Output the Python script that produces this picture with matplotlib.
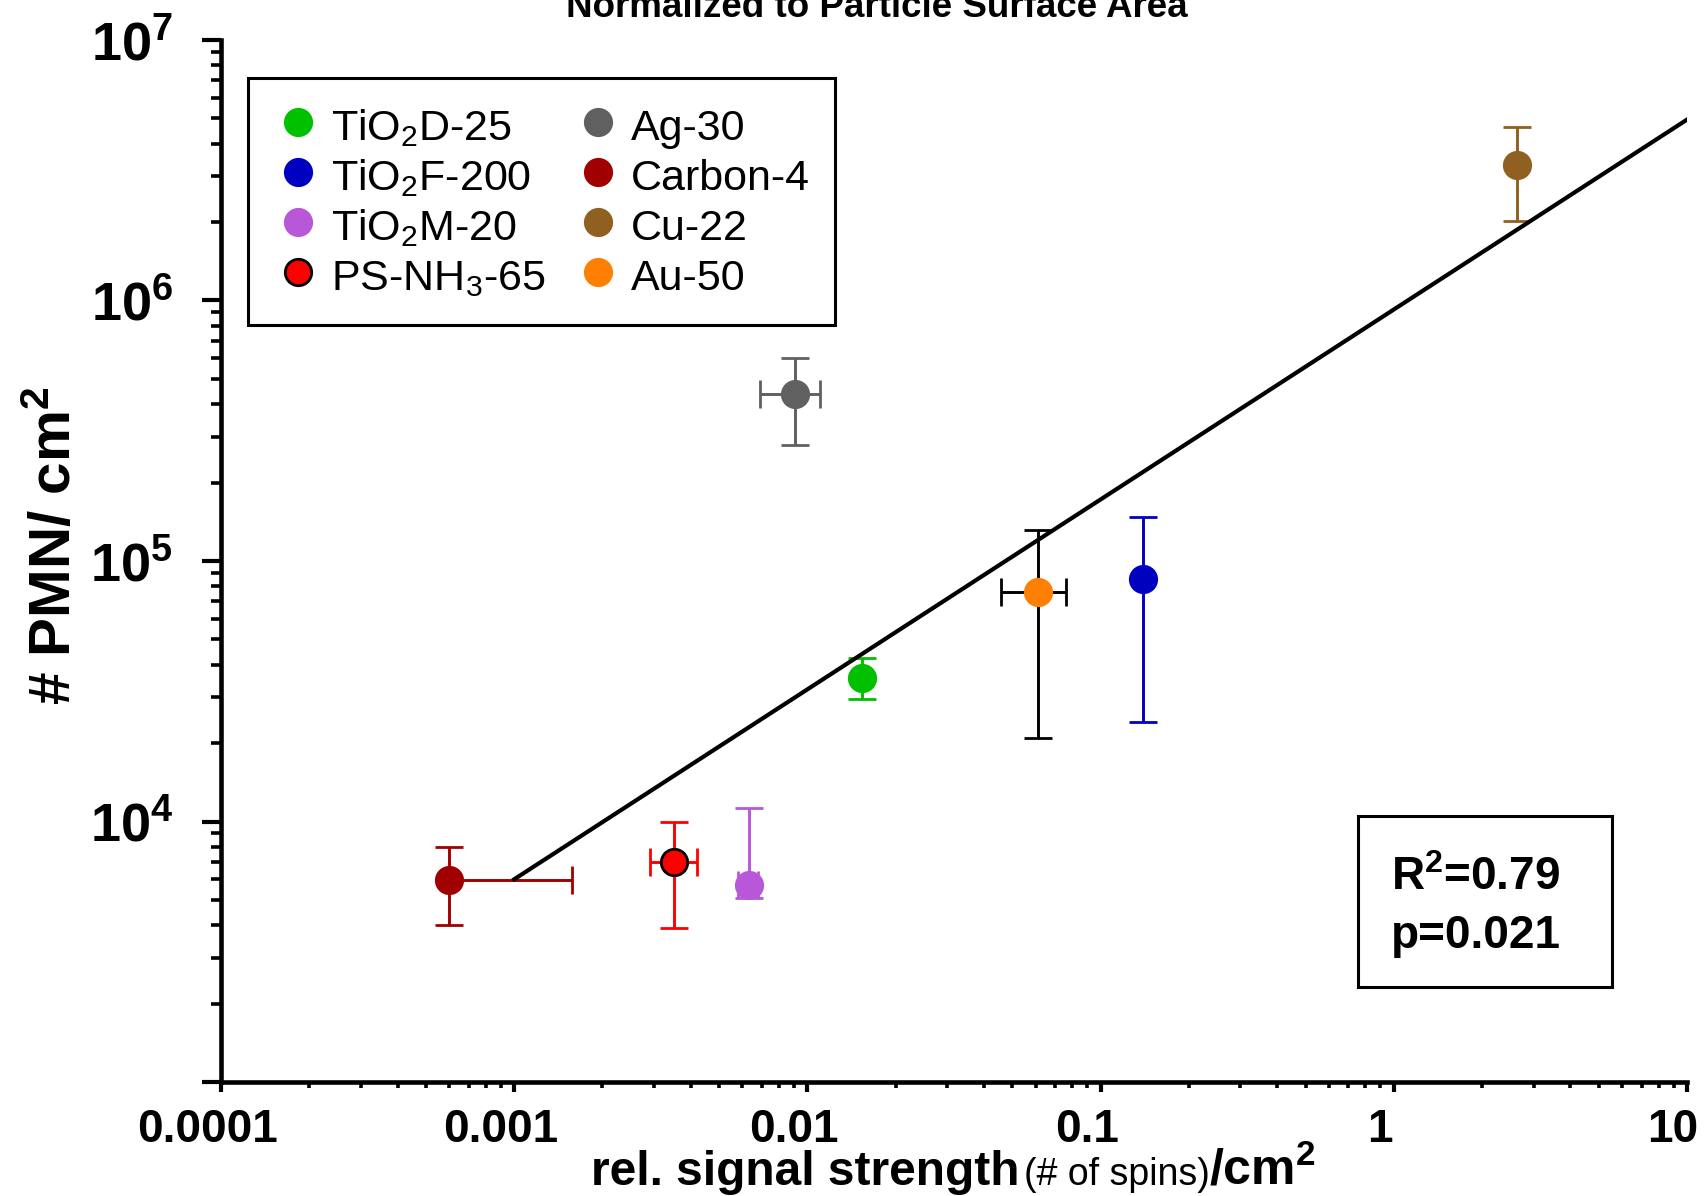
#!/usr/bin/env python
# -*- coding: utf-8 -*-

import numpy as np
import matplotlib
matplotlib.use("Agg")
import matplotlib.pyplot as plt
from matplotlib.lines import Line2D
from matplotlib.patches import Rectangle
from matplotlib.ticker import LogLocator, NullFormatter
from matplotlib.transforms import ScaledTranslation

plt.rcParams['font.family'] = ['Liberation Sans', 'DejaVu Sans']
plt.rcParams['mathtext.default'] = 'regular'

# ========== datos

names = ['TiO$_2$D-25', 'TiO$_2$F-200', 'TiO$_2$M-20', 'PS-NH$_3$-65',
         'Ag-30', 'Carbon-4', 'Cu-22', 'Au-50']
colors = ['#00c000', '#0000c0', '#b858d8', '#ff0000',
          '#606060', '#a00000', '#906020', '#ff8000']
err_colors = ['#00c000', '#0000c0', '#b858d8', '#ff0000',
              '#606060', '#a00000', '#906020', '#000000']
edge_colors = ['#00c000', '#0000c0', '#b858d8', '#000000',
               '#606060', '#a00000', '#906020', '#ff8000']

# rel. signal strength (# of spins)/cm2
signal = [0.0153, 0.140, 0.0063, 0.0035, 0.0091, 0.0006, 2.63, 0.061]
signal_lo = [0, 0, 0.0005, 0.0006, 0.0022, 0, 0, 0.0153]
signal_hi = [0, 0, 0.0005, 0.0007, 0.0019, 0.00098, 0, 0.0153]

# # PMN / cm2
pmn = [3.56e4, 8.5e4, 5.7e3, 7.0e3, 4.37e5, 5.95e3, 3.3e6, 7.6e4]
pmn_lo = [6.2e3, 6.1e4, 0.6e3, 3.1e3, 1.59e5, 1.95e3, 1.28e6, 5.5e4]
pmn_hi = [6.8e3, 6.2e4, 5.6e3, 3.0e3, 1.63e5, 2.05e3, 1.33e6, 5.5e4]

# ajuste y = A * x^b
fit_amp = 9.23e5
fit_exp = 0.729
fit_range = [1e-3, 10]

x_ticks = [1e-4, 1e-3, 1e-2, 1e-1, 1, 10]
x_tick_labels = ['0.0001', '0.001', '0.01', '0.1', '1', '10']
y_ticks = [1e3, 1e4, 1e5, 1e6, 1e7]
y_tick_labels = ['', '$10^4$', '$10^5$', '$10^6$', '$10^7$']

# ========== figura

fig = plt.figure(figsize=(17.08, 11.96), dpi=100)
ax = fig.add_axes([0.1294, 0.0953, 0.8583, 0.8713])

for i in range(len(names)):
    xe = None
    if signal_lo[i] > 0 or signal_hi[i] > 0:
        xe = [[signal_lo[i]], [signal_hi[i]]]
    ax.errorbar([signal[i]], [pmn[i]], yerr=[[pmn_lo[i]], [pmn_hi[i]]], xerr=xe,
                fmt='o', ms=19, mfc=colors[i], mec=edge_colors[i], mew=2,
                ecolor=err_colors[i], elinewidth=2.1, capsize=10, capthick=2.1,
                zorder=3)

xf = np.logspace(np.log10(fit_range[0]), np.log10(fit_range[1]), 50)
ax.plot(xf, fit_amp * xf ** fit_exp, color='black', lw=3, zorder=4)

ax.set_xscale('log')
ax.set_yscale('log')
ax.set_xlim(1e-4, 10)
ax.set_ylim(1e3, 1e7)

ax.set_xticks(x_ticks)
ax.set_xticklabels(x_tick_labels, fontsize=33, fontweight='bold')
ax.set_yticks(y_ticks)
ax.set_yticklabels(y_tick_labels, fontsize=39, fontweight='bold')
ax.xaxis.set_minor_locator(LogLocator(base=10, subs=np.arange(2, 10), numticks=20))
ax.yaxis.set_minor_locator(LogLocator(base=10, subs=np.arange(2, 10), numticks=20))
ax.xaxis.set_minor_formatter(NullFormatter())
ax.yaxis.set_minor_formatter(NullFormatter())

ax.tick_params(which='major', direction='out', width=3)
ax.tick_params(which='minor', direction='out', width=2.6)
ax.tick_params(axis='x', which='major', length=7, pad=12)
ax.tick_params(axis='x', which='minor', length=4)
ax.tick_params(axis='y', which='major', length=13.5, pad=21)
ax.tick_params(axis='y', which='minor', length=7)

# las etiquetas del eje x van un poco a la izquierda
for lab in ax.get_xticklabels():
    lab.set_transform(lab.get_transform() + ScaledTranslation(-0.14, 0, fig.dpi_scale_trans))

for s in ['top', 'right']:
    ax.spines[s].set_visible(False)
for s in ['left', 'bottom']:
    ax.spines[s].set_linewidth(3.3)

ax.set_ylabel('# PMN/ cm$^2$', fontsize=42, fontweight='bold')
ax.yaxis.set_label_coords(-0.0942, 0.515)

# etiqueta del eje x en tres partes
fig.text(0.3463, 0.0092, 'rel. signal strength', fontsize=34.5, fontweight='bold', va='baseline')
fig.text(0.5995, 0.0092, '(# of spins)', fontsize=27, va='baseline')
fig.text(0.7079, 0.0092, '/cm$^2$', fontsize=36, fontweight='bold', va='baseline')

fig.text(0.5135, 0.9854, 'Normalized to Particle Surface Area', fontsize=26.5,
         fontweight='bold', ha='center', va='baseline')

# leyenda
handles = []
for i in range(len(names)):
    handles.append(Line2D([], [], marker='o', ls='none', ms=19, mfc=colors[i],
                          mec=edge_colors[i], mew=2))
leg = ax.legend(handles, names, ncol=2, loc='upper left',
                bbox_to_anchor=(0.1452, 0.9348), bbox_transform=fig.transFigure,
                borderaxespad=0, fontsize=31, borderpad=0.6, labelspacing=0.1,
                handleheight=1.2, handlelength=1.12, handletextpad=0.2,
                columnspacing=0.66, fancybox=False, framealpha=1, edgecolor='black')
leg.get_frame().set_linewidth(2.2)

# cuadro R2
fig.patches.append(Rectangle((0.795, 0.1747), 0.1487, 0.143, transform=fig.transFigure,
                             fill=False, lw=2.2, ec='black'))
fig.text(0.8144, 0.2559, 'R$^2$=0.79', fontsize=33, fontweight='bold', va='baseline')
fig.text(0.8144, 0.2074, 'p=0.021', fontsize=33, fontweight='bold', va='baseline')

fig.savefig('out.png', dpi=100)
